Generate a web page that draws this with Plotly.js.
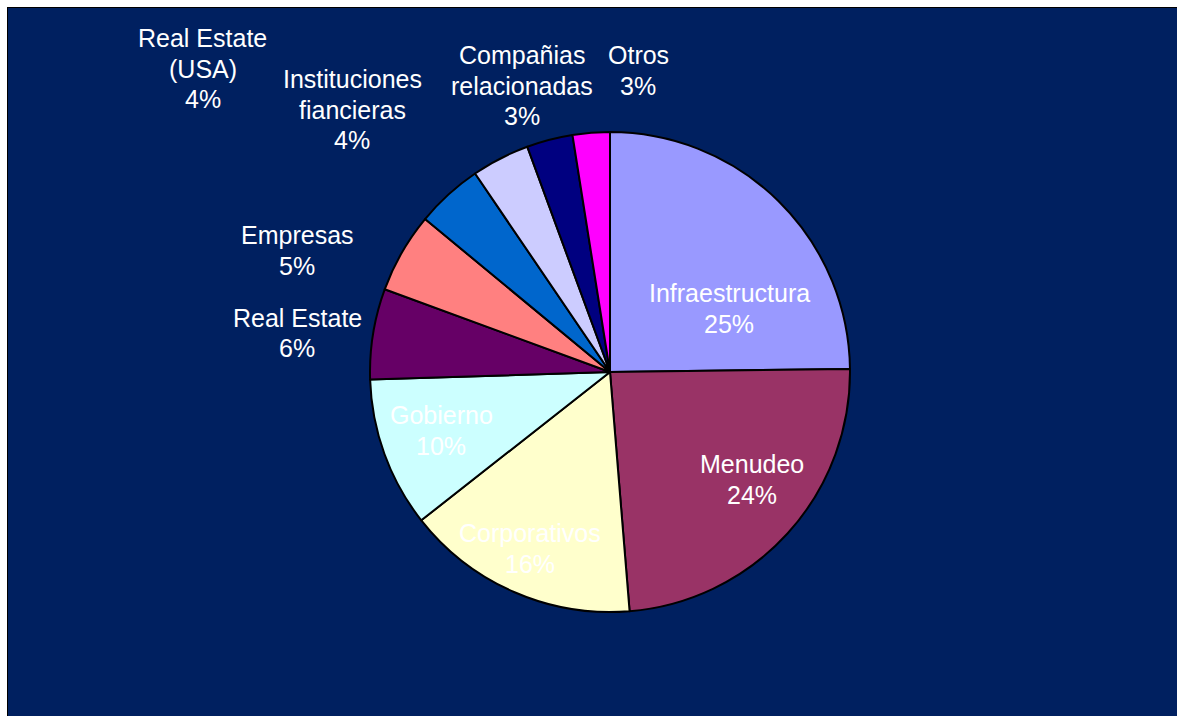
<!DOCTYPE html>
<html>
<head>
<meta charset="utf-8">
<script src="https://cdn.plot.ly/plotly-3.0.1.min.js"></script>
<style>
  html, body { margin: 0; padding: 0; background: #ffffff; width: 1177px; height: 716px; overflow: hidden; }
  #frame { position: absolute; left: 7px; top: 7px; width: 1170px; height: 709px; background: #000000; }
  #chart { position: absolute; left: 8px; top: 8px; width: 1169px; height: 708px; }
</style>
</head>
<body>
<div id="frame"></div>
<div id="chart"></div>
<script>
// ---- data ----
const categories = ['Infraestructura', 'Menudeo', 'Corporativos', 'Gobierno', 'Real Estate',
                    'Empresas', 'Real Estate (USA)', 'Instituciones fiancieras',
                    'Compañias relacionadas', 'Otros'];
// slice sizes as drawn (angles)
const sliceValues = [24.8, 23.9, 15.7, 10.1, 6.1, 5.4, 4.5, 3.9, 3.1, 2.5];
// percentages printed on the labels
const pctLabels = ['25%', '24%', '16%', '10%', '6%', '5%', '4%', '4%', '3%', '3%'];
// how each category name is broken into lines on the label
const nameLines = [
  ['Infraestructura'], ['Menudeo'], ['Corporativos'], ['Gobierno'], ['Real Estate'],
  ['Empresas'], ['Real Estate', '(USA)'], ['Instituciones', 'fiancieras'],
  ['Compañias', 'relacionadas'], ['Otros']
];
const sliceColors = ['#9999FF', '#993366', '#FFFFCC', '#CCFFFF', '#660066',
                     '#FF8080', '#0066CC', '#CCCCFF', '#000080', '#FF00FF'];

// ---- layout helpers (label anchor positions in page pixels: centre x, first line centre y) ----
const labelPos = [
  [729, 293], [752, 464], [530, 533], [441, 415], [297, 318],
  [297, 235], [203, 38], [352, 79], [522, 55], [638, 55]
];
const lineGap = 30.5;
const W = 1169, H = 708, OX = 8, OY = 8;
const toPaperX = px => (px - OX) / W;
const toPaperY = py => 1 - (py - OY) / H;

// pie geometry: centre (610,372) page px, radius 240
const cx = 610, cy = 372, r = 240;

const annotations = [];
categories.forEach((c, i) => {
  const lines = nameLines[i].concat([pctLabels[i]]);
  lines.forEach((t, k) => {
    annotations.push({
      xref: 'paper', yref: 'paper',
      x: toPaperX(labelPos[i][0]),
      y: toPaperY(labelPos[i][1] + k * lineGap),
      xanchor: 'center', yanchor: 'middle',
      text: t, showarrow: false,
      font: { family: 'Liberation Sans, Arial, sans-serif', size: 25, color: '#ffffff' }
    });
  });
});

const trace = {
  type: 'pie',
  labels: categories,
  values: sliceValues,
  sort: false,
  direction: 'clockwise',
  rotation: 0,
  textinfo: 'none',
  hoverinfo: 'label+percent',
  marker: { colors: sliceColors, line: { color: '#000000', width: 2 } },
  domain: {
    x: [toPaperX(cx - r), toPaperX(cx + r)],
    y: [toPaperY(cy + r), toPaperY(cy - r)]
  }
};

const layout = {
  width: W, height: H,
  margin: { l: 0, r: 0, t: 0, b: 0 },
  paper_bgcolor: '#002060',
  plot_bgcolor: '#002060',
  showlegend: false,
  annotations: annotations
};

Plotly.newPlot('chart', [trace], layout, { displayModeBar: false, staticPlot: true });
</script>
</body>
</html>
